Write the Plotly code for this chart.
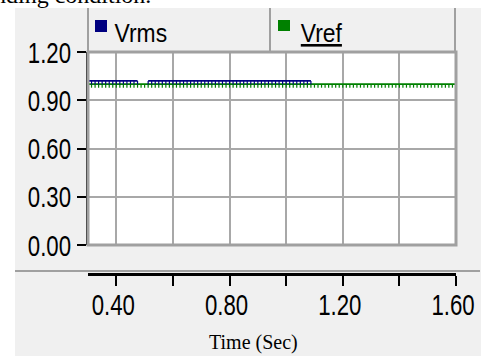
import plotly.graph_objects as go

# ---- data ----
time_s = [round(0.30 + 0.0125 * k, 4) for k in range(105)]
vref = [1.00] * 105
vrms = [1.02] * 15 + [None] * 2 + [1.02] * 47
vrms_time = time_s[:64]

x_tick_vals = [0.40, 0.60, 0.80, 1.00, 1.20, 1.40, 1.60]
x_tick_text = ["0.40", "", "0.80", "", "1.20", "", "1.60"]
y_tick_vals = [0.00, 0.30, 0.60, 0.90, 1.20]
y_tick_text = ["0.00", "0.30", "0.60", "0.90", "1.20"]

W, H = 489, 356
L, R, T, B = 88, 456, 52, 274   # plot-paper pixel box
Y0 = 245                          # pixel of y = 0 (bottom of plot area)


def xp(px):
    return (px - L) / (R - L)


def yp(py):
    return (B - py) / (B - T)


NAVY = "#000080"
GREEN = "#008000"
GRID = "#a8a8a8"
PANEL = "#f0f0f0"
SANS = "Liberation Sans, Arial, sans-serif"
SERIF = "Liberation Serif, Times New Roman, serif"

fig = go.Figure()
fig.add_trace(go.Scatter(
    x=time_s, y=vref, mode="lines", name="Vref",
    line=dict(color=GREEN, width=1.6),
    error_y=dict(type="constant", symmetric=False, value=0, valueminus=0.022,
                 color=GREEN, thickness=1.2, width=0),
))
fig.add_trace(go.Scatter(
    x=vrms_time, y=vrms, mode="lines", name="Vrms",
    line=dict(color=NAVY, width=1.8),
    error_y=dict(type="constant", symmetric=False, value=0, valueminus=0.022,
                 color=NAVY, thickness=1.2, width=0),
    connectgaps=False,
))

shapes = []
# white outside of the gray panel
shapes.append(dict(type="rect", xref="paper", yref="paper", x0=xp(-5), x1=xp(W + 5),
                   y0=yp(8), y1=yp(-5), fillcolor="white", line=dict(width=0), layer="above"))
shapes.append(dict(type="rect", xref="paper", yref="paper", x0=xp(-5), x1=xp(15),
                   y0=yp(H + 5), y1=yp(8), fillcolor="white", line=dict(width=0), layer="above"))
shapes.append(dict(type="rect", xref="paper", yref="paper", x0=xp(481), x1=xp(W + 5),
                   y0=yp(H + 5), y1=yp(8), fillcolor="white", line=dict(width=0), layer="above"))
# legend box lines
for lx in (88, 270, 455):
    shapes.append(dict(type="line", xref="paper", yref="paper", x0=xp(lx), x1=xp(lx),
                       y0=yp(8), y1=yp(51), line=dict(color="#a0a0a0", width=2)))
# plot border (gray)
shapes.append(dict(type="rect", xref="x domain", yref="y domain", x0=0, x1=1, y0=0, y1=1,
                   line=dict(color="#a0a0a0", width=3), layer="above"))
# separator line above time axis
shapes.append(dict(type="line", xref="paper", yref="paper", x0=xp(15), x1=xp(480),
                   y0=yp(271), y1=yp(271), line=dict(color="#a0a0a0", width=2)))
# legend squares
shapes.append(dict(type="rect", xref="paper", yref="paper", x0=xp(95), x1=xp(107),
                   y0=yp(32), y1=yp(20), fillcolor=NAVY, line=dict(width=0)))
shapes.append(dict(type="rect", xref="paper", yref="paper", x0=xp(278), x1=xp(290),
                   y0=yp(31), y1=yp(20), fillcolor=GREEN, line=dict(width=0)))

annotations = [
    dict(text="Vrms", x=xp(141), y=yp(33), xref="paper", yref="paper",
         xanchor="center", yanchor="middle", showarrow=False,
         font=dict(family=SANS, size=26, color="black")),
    dict(text="<u>Vref</u>", x=xp(321), y=yp(33), xref="paper", yref="paper",
         xanchor="center", yanchor="middle", showarrow=False,
         font=dict(family=SANS, size=26, color="black")),
    dict(text="Time (Sec)", x=xp(253), y=yp(342), xref="paper", yref="paper",
         xanchor="center", yanchor="middle", showarrow=False,
         font=dict(family=SERIF, size=20, color="black")),
    dict(text="nding condition.", x=xp(-8), y=yp(-5), xref="paper", yref="paper",
         xanchor="left", yanchor="middle", showarrow=False,
         font=dict(family=SERIF, size=24, color="black")),
]

fig.update_layout(
    width=W, height=H,
    margin=dict(l=L, r=W - R, t=T, b=H - B, pad=0),
    paper_bgcolor=PANEL, plot_bgcolor="white",
    showlegend=False,
    shapes=shapes, annotations=annotations,
    xaxis=dict(range=[0.30, 1.60], tickvals=x_tick_vals, ticktext=x_tick_text,
               showgrid=True, gridcolor=GRID, gridwidth=2, zeroline=False,
               showline=True, linecolor="black", linewidth=3,
               ticks="outside", ticklen=10, tickwidth=2, tickcolor="black",
               anchor="free", position=0, automargin=False,
               ticklabelstandoff=-7, ticklabelshift=-3,
               tickfont=dict(family=SANS, size=30, color="black")),
    yaxis=dict(range=[0, 1.2], tickvals=y_tick_vals, ticktext=y_tick_text,
               domain=[yp(Y0), 1], automargin=False,
               showgrid=True, gridcolor=GRID, gridwidth=2, zeroline=False,
               showline=True, linecolor="black", linewidth=2,
               ticks="outside", ticklen=9, tickwidth=2, tickcolor="black",
               tickfont=dict(family=SANS, size=30, color="black")),
)

post = """
document.body.style.margin='0';document.body.style.padding='0';
var gd = document.getElementById('{plot_id}');
function squeeze(list, f) {
  list.forEach(function (t) {
    var w = t.getComputedTextLength();
    if (w > 0) {
      t.setAttribute('textLength', (w * f).toFixed(2));
      t.setAttribute('lengthAdjust', 'spacingAndGlyphs');
    }
  });
}
squeeze(gd.querySelectorAll('.xtick text'), 0.74);
squeeze(gd.querySelectorAll('.ytick text'), 0.74);
var ann = gd.querySelectorAll('.annotation-text');
squeeze([ann[0], ann[1]], 0.88);
"""

fig.write_html("out.html", config={"displayModeBar": False}, post_script=post)
